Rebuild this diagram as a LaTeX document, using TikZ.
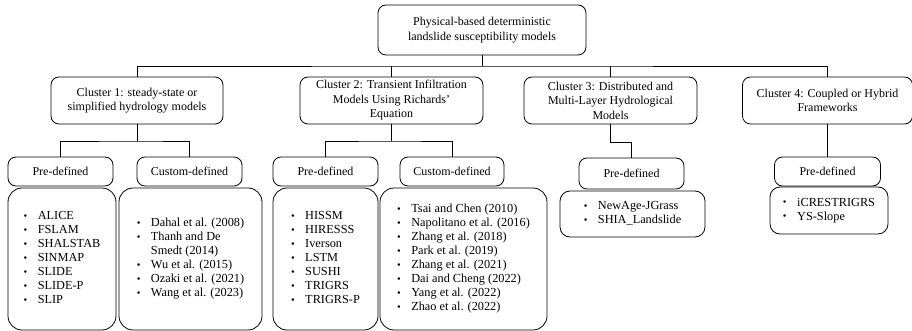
\documentclass[tikz,border=0pt]{standalone}
\usepackage{fontspec}
\setmainfont{Liberation Serif}
\usetikzlibrary{calc}
\newcommand{\bl}{\raisebox{0.1ex}{\scalebox{0.85}{\textbullet}}}
\newcommand{\blist}[1]{\begin{tabular}{@{}l@{\hspace{10.5pt}}l@{}}#1\end{tabular}}
\begin{document}
\begin{tikzpicture}[x=1pt,y=-1pt,
  hbox/.style={draw, line width=0.8pt, rounded corners=8pt, align=center, inner sep=0pt,
    font=\fontsize{12}{14.5}\selectfont},
  lbox/.style={draw, line width=0.8pt, rounded corners=14pt, inner sep=0pt,
    font=\fontsize{12.3}{14}\selectfont},
  sbox/.style={draw, line width=0.8pt, rounded corners=10pt, inner sep=0pt,
    font=\fontsize{12.3}{14}\selectfont},
  conn/.style={line width=0.8pt}]
\useasboundingbox (0,0) rectangle (912,331);
% top
\node[hbox, minimum width=208pt, minimum height=50pt] (top) at (482,30)
  {Physical-based deterministic\\landslide susceptibility models};
% clusters
\node[hbox, minimum width=172pt, minimum height=47pt] (c1) at (137,100.5)
  {Cluster 1: steady-state or\\simplified hydrology models};
\node[hbox, minimum width=183pt, minimum height=47pt] (c2) at (391.5,100.5)
  {Cluster 2: Transient Infiltration\\Models Using Richards'\\Equation};
\node[hbox, minimum width=173pt, minimum height=47pt] (c3) at (610.5,100.5)
  {Cluster 3: Distributed and\\Multi-Layer Hydrological\\Models};
\node[hbox, minimum width=170pt, minimum height=47pt] (c4) at (827.5,100.5)
  {Cluster 4: Coupled or Hybrid\\Frameworks};
% sub headers
\node[hbox, minimum width=105pt, minimum height=29pt] (p1) at (60.5,171.5) {Pre-defined};
\node[hbox, minimum width=105pt, minimum height=29pt] (q1) at (189.5,171.5) {Custom-defined};
\node[hbox, minimum width=105pt, minimum height=29pt] (p2) at (325.5,171.5) {Pre-defined};
\node[hbox, minimum width=104pt, minimum height=29pt] (q2) at (452,171.5) {Custom-defined};
\node[hbox, minimum width=105pt, minimum height=31pt] (p3) at (631.5,173.5) {Pre-defined};
\node[hbox, minimum width=106pt, minimum height=29pt] (p4) at (827.5,171.5) {Pre-defined};
% lists
\node[lbox, minimum width=108pt, minimum height=142pt] (l1) at (62,259)
  {\blist{\bl & ALICE\\ \bl & FSLAM\\ \bl & SHALSTAB\\ \bl & SINMAP\\ \bl & SLIDE\\ \bl & SLIDE-P\\ \bl & SLIP}};
\node[lbox, minimum width=143pt, minimum height=142pt] (m1) at (190.5,259)
  {\blist{\bl & Dahal et al. (2008)\\ \bl & Thanh and De\\ & Smedt (2014)\\ \bl & Wu et al. (2015)\\ \bl & Ozaki et al. (2021)\\ \bl & Wang et al. (2023)}};
\node[lbox, minimum width=105pt, minimum height=142pt] (l2) at (325.5,259)
  {\blist{\bl & HISSM\\ \bl & HIRESSS\\ \bl & Iverson\\ \bl & LSTM\\ \bl & SUSHI\\ \bl & TRIGRS\\ \bl & TRIGRS-P}};
\node[lbox, minimum width=167pt, minimum height=142pt] (m2) at (463.5,259)
  {\blist{\bl & Tsai and Chen (2010)\\ \bl & Napolitano et al. (2016)\\ \bl & Zhang et al. (2018)\\ \bl & Park et al. (2019)\\ \bl & Zhang et al. (2021)\\ \bl & Dai and Cheng (2022)\\ \bl & Yang et al. (2022)\\ \bl & Zhao et al. (2022)}};
\node[sbox, minimum width=145pt, minimum height=46pt] (l3) at (632.5,214)
  {\blist{\bl & NewAge-JGrass\\ \bl & SHIA\_Landslide}};
\node[sbox, minimum width=118pt, minimum height=47pt] (l4) at (829,210.5)
  {\blist{\bl & iCRESTRIGRS\\ \bl & YS-Slope}};
% connectors
\coordinate (j0) at (482,66);
\draw[conn] (top.south) -- (j0);
\draw[conn] (c1.north) |- (j0) -| (c4.north);
\draw[conn] (c2.north) -- (c2.north |- j0);
\draw[conn] (c3.north) -- (c3.north |- j0);
\coordinate (j1) at (137,141);
\draw[conn] (c1.south) -- (j1);
\draw[conn] (p1.north) |- (j1) -| (q1.north);
\coordinate (j2) at (391.5,141);
\draw[conn] (c2.south) -- (j2);
\draw[conn] (p2.north) |- (j2) -| (q2.north);
\coordinate (j3) at (610.5,142);
\draw[conn] (c3.south) -- (j3) -| (p3.north);
\draw[conn] (c4.south) -- (p4.north);
\end{tikzpicture}
\end{document}
